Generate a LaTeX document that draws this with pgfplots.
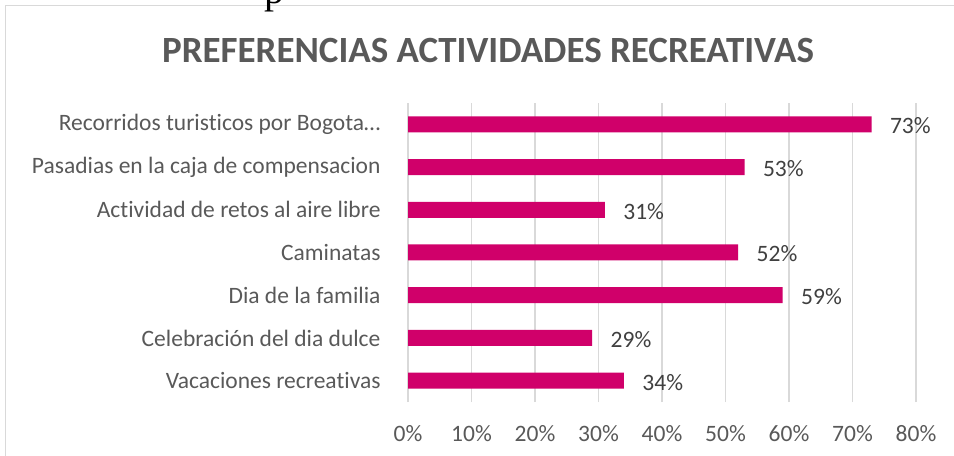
\documentclass[border=0pt]{standalone}
\usepackage{pgfplots}
\pgfplotsset{compat=1.18}
\usepackage{fontspec}
\setmainfont{Carlito}[Ligatures=NoCommon]
\newfontfamily\seriffont{Liberation Serif}
\definecolor{barc}{RGB}{208,0,106}
\definecolor{txt}{RGB}{89,89,89}
\definecolor{dlab}{RGB}{64,64,64}
\definecolor{gridc}{RGB}{217,217,217}
\begin{document}
\begin{tikzpicture}
\useasboundingbox (0bp,0bp) rectangle (954bp,456bp);
\clip (0bp,0bp) rectangle (954bp,456bp);
\draw[gridc, line width=1.5bp] (5.5bp,0bp) -- (5.5bp,450.5bp) -- (960bp,450.5bp);
\node[font=\seriffont\fontsize{40bp}{40bp}\selectfont, anchor=base, inner sep=0pt] at (274bp,452bp) {p};
\node[font=\bfseries\fontsize{37bp}{44bp}\selectfont, text=txt] at (488bp,406bp) {PREFERENCIAS ACTIVIDADES RECREATIVAS};
\begin{axis}[
 at={(408bp,54bp)}, anchor=south west,
 scale only axis, width=508bp, height=299bp,
 xbar, bar width=16bp,
 xmin=0, xmax=80, ymin=-0.5, ymax=6.5,
 xtick={0,10,...,80},
 xticklabels={0\%,10\%,20\%,30\%,40\%,50\%,60\%,70\%,80\%},
 ytick={0,...,6},
 yticklabels={Vacaciones recreativas, Celebración del dia dulce, Dia de la familia, Caminatas, Actividad de retos al aire libre, Pasadias en la caja de compensacion, Recorridos turisticos por Bogota…},
 xmajorgrids, major grid style={gridc, line width=1.3bp},
 axis line style={draw=none},
 major tick length=0pt,
 tick label style={font=\fontsize{23.5bp}{28bp}\selectfont, text=txt},
 xticklabel style={yshift=-20bp},
 yticklabel style={xshift=-24bp},
 point meta=x,
 nodes near coords={\pgfmathprintnumber{\pgfplotspointmeta}\%},
 nodes near coords style={font=\fontsize{23.5bp}{28bp}\selectfont, text=dlab, anchor=west, xshift=15bp, yshift=-1.5bp},
 /pgf/number format/assume math mode=true,
 clip=false,
]
\addplot[fill=barc, draw=none] coordinates {(34,0) (29,1) (59,2) (52,3) (31,4) (53,5) (73,6)};
\end{axis}
\end{tikzpicture}
\end{document}
